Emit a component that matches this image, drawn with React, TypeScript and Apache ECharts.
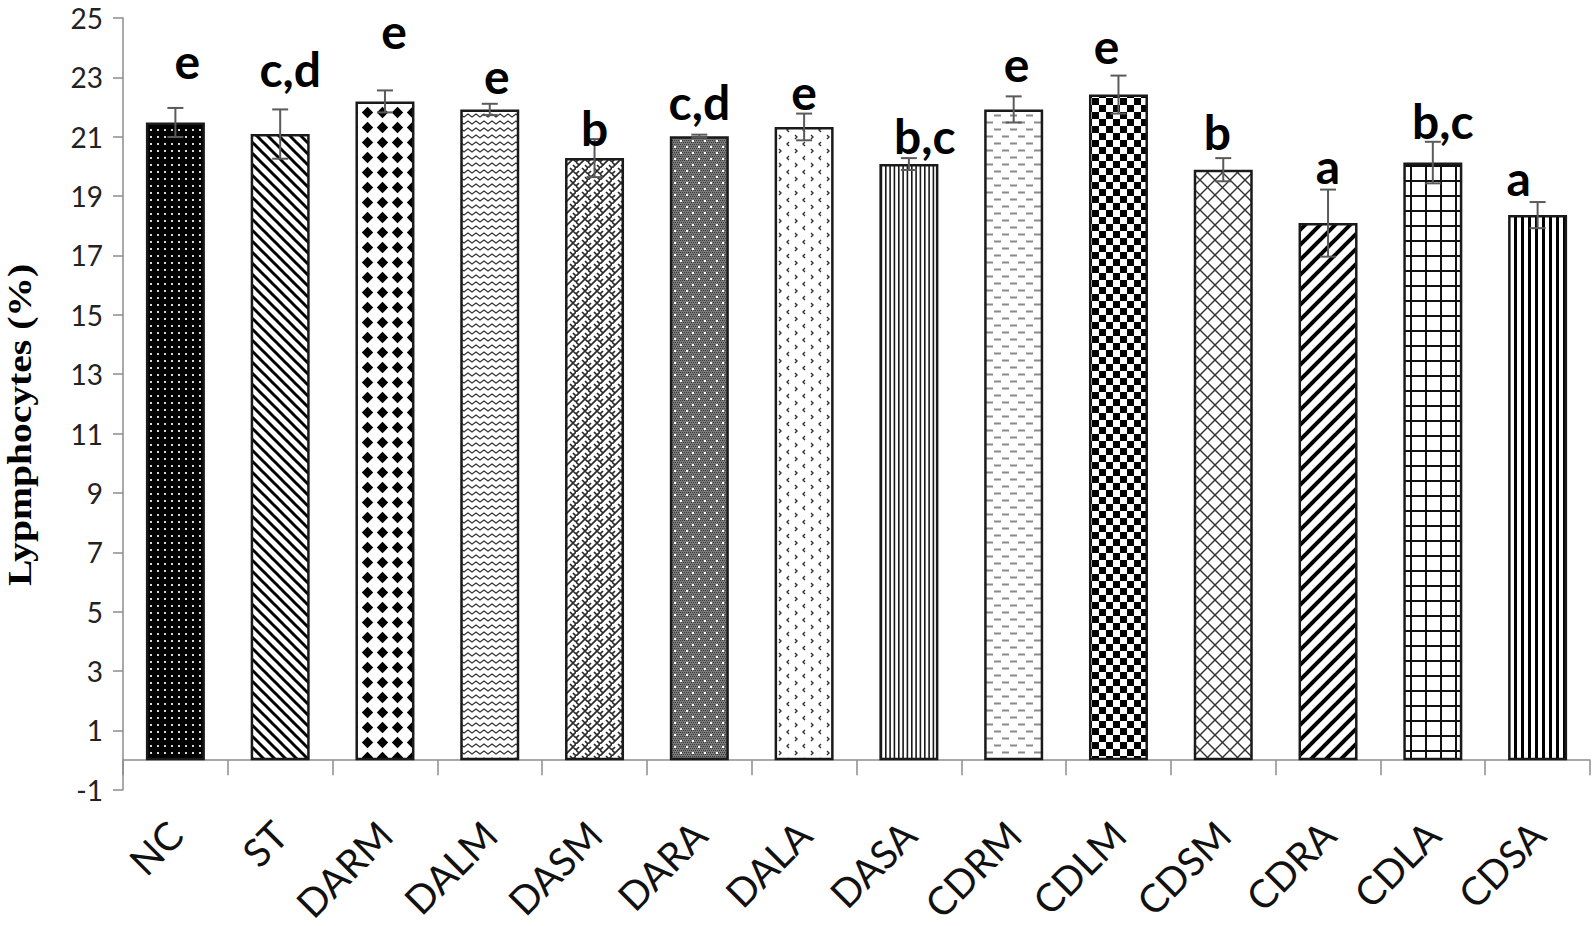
import React, { useEffect, useRef } from 'react';
import * as echarts from 'echarts';

// ---- data ----
const categories = ['NC', 'ST', 'DARM', 'DALM', 'DASM', 'DARA', 'DALA', 'DASA', 'CDRM', 'CDLM', 'CDSM', 'CDRA', 'CDLA', 'CDSA'];
const means = [21.48, 21.09, 22.19, 21.92, 20.28, 21.02, 21.33, 20.08, 21.92, 22.42, 19.89, 18.09, 20.13, 18.36];
const sds = [0.49, 0.83, 0.37, 0.19, 0.64, 0.05, 0.45, 0.2, 0.44, 0.64, 0.39, 1.13, 0.7, 0.44];
const letters = ['e', 'c,d', 'e', 'e', 'b', 'c,d', 'e', 'b,c', 'e', 'e', 'b', 'a', 'b,c', 'a'];
// baseline level of each significance letter, in axis units
const letterLevels = [23.1, 22.83, 24.12, 22.59, 20.83, 21.72, 22.06, 20.56, 23.0, 23.61, 20.72, 19.56, 21.09, 19.14];
const yMin = -1;
const yMax = 25;
const yStep = 2;
const yTitle = 'Lypmphocytes (%)';

// ---- styling helpers (not data) ----
const letterNudgeX = [12, 10, 9, 7, 0, 0, 0, 16, 3, -12, -6, 0, 10, -19];

type Draw = (g: CanvasRenderingContext2D, w: number, h: number) => void;
function tile(w: number, h: number, bg: string, draw: Draw) {
  const c = document.createElement('canvas');
  c.width = w;
  c.height = h;
  const g = c.getContext('2d')!;
  g.fillStyle = bg;
  g.fillRect(0, 0, w, h);
  draw(g, w, h);
  return { image: c.toDataURL(), repeat: 'repeat', imageWidth: w, imageHeight: h };
}

function makePatterns() {
  const diag = (g: CanvasRenderingContext2D, s: number, lw: number, col: string, down: boolean) => {
    g.strokeStyle = col;
    g.lineWidth = lw;
    for (const o of [-s, 0, s]) {
      g.beginPath();
      if (down) {
        g.moveTo(o - 2, -2);
        g.lineTo(o + s + 2, s + 2);
      } else {
        g.moveTo(o - 2, s + 2);
        g.lineTo(o + s + 2, -2);
      }
      g.stroke();
    }
  };
  return [
    // NC: white dots on black
    tile(7, 7, '#000', (g) => {
      g.fillStyle = '#d8d8d8';
      g.fillRect(3, 3, 2, 2);
    }),
    // ST: wide downward diagonal
    tile(11, 11, '#fff', (g) => diag(g, 11, 3, '#000', true)),
    // DARM: solid diamonds
    tile(15, 15, '#fff', (g) => {
      g.fillStyle = '#000';
      g.beginPath();
      g.moveTo(7.5, 1.8);
      g.lineTo(13.2, 7.5);
      g.lineTo(7.5, 13.2);
      g.lineTo(1.8, 7.5);
      g.closePath();
      g.fill();
    }),
    // DALM: zigzag
    tile(8, 7, '#fff', (g) => {
      g.strokeStyle = '#333';
      g.lineWidth = 1.3;
      g.beginPath();
      g.moveTo(-4, 2);
      g.lineTo(0, 5);
      g.lineTo(4, 2);
      g.lineTo(8, 5);
      g.lineTo(12, 2);
      g.stroke();
    }),
    // DASM: weave
    tile(12, 12, '#fff', (g) => {
      g.strokeStyle = '#2a2a2a';
      g.lineWidth = 1.7;
      g.beginPath();
      g.moveTo(-1, 13);
      g.lineTo(13, -1);
      g.moveTo(0, 6);
      g.lineTo(3, 9);
      g.moveTo(6, 0);
      g.lineTo(9, 3);
      g.moveTo(6, 12);
      g.lineTo(7, 13);
      g.moveTo(9, 9);
      g.lineTo(12, 12);
      g.moveTo(-1, -1);
      g.lineTo(0, 0);
      g.moveTo(3, 3);
      g.lineTo(0, 6);
      g.moveTo(9, 3);
      g.lineTo(12, 6);
      g.stroke();
    }),
    // DARA: dark grey texture with white dots
    tile(12, 12, '#7a7a7a', (g) => {
      g.fillStyle = '#3a3a3a';
      for (let y = 0; y < 12; y += 2) for (let x = (y / 2) % 2 ? 1 : 0; x < 12; x += 2) g.fillRect(x, y, 1, 1);
      g.fillStyle = '#fff';
      g.fillRect(2, 2, 2, 2);
      g.fillRect(8, 8, 2, 2);
    }),
    // DALA: divot
    tile(16, 14, '#fff', (g) => {
      g.strokeStyle = '#333';
      g.lineWidth = 1.4;
      g.beginPath();
      g.moveTo(5, 2);
      g.lineTo(3, 4);
      g.lineTo(5, 6);
      g.moveTo(11, 9);
      g.lineTo(13, 11);
      g.lineTo(11, 13);
      g.stroke();
    }),
    // DASA: narrow vertical lines
    tile(13, 4, '#fff', (g) => {
      g.fillStyle = '#1a1a1a';
      g.fillRect(1, 0, 1.6, 4);
      g.fillRect(5.3, 0, 1.6, 4);
      g.fillRect(9.6, 0, 1.6, 4);
    }),
    // CDRM: dashed horizontal
    tile(16, 14, '#fff', (g) => {
      g.fillStyle = '#8a8a8a';
      g.fillRect(2, 2.5, 7, 2);
      g.fillRect(10, 9.5, 6, 2);
      g.fillRect(0, 9.5, 1, 2);
    }),
    // CDLM: large checker
    tile(14, 14, '#fff', (g) => {
      g.fillStyle = '#000';
      g.fillRect(0, 0, 7, 7);
      g.fillRect(7, 7, 7, 7);
    }),
    // CDSM: diagonal cross
    tile(15, 15, '#fff', (g) => {
      diag(g, 15, 1.4, '#333', true);
      diag(g, 15, 1.4, '#333', false);
    }),
    // CDRA: wide upward diagonal
    tile(15, 15, '#fff', (g) => diag(g, 15, 4, '#000', false)),
    // CDLA: large grid
    tile(15, 15, '#fff', (g) => {
      g.fillStyle = '#111';
      g.fillRect(0, 0, 15, 2);
      g.fillRect(0, 0, 2, 15);
    }),
    // CDSA: wide vertical lines
    tile(7, 4, '#fff', (g) => {
      g.fillStyle = '#000';
      g.fillRect(2, 0, 3, 4);
    }),
  ];
}

export default function App() {
  const ref = useRef<HTMLDivElement>(null);
  useEffect(() => {
    if (!ref.current) return;
    const chart = echarts.init(ref.current, undefined, { renderer: 'svg' });
    const patterns = makePatterns();
    const axisGrey = '#8c8c8c';
    const option: any = {
      animation: false,
      backgroundColor: '#fff',
      grid: { left: 123, right: 3, top: 18, bottom: 132, containLabel: false },
      xAxis: {
        type: 'category',
        data: categories,
        axisLine: { onZero: true, lineStyle: { color: axisGrey, width: 1.5 } },
        axisTick: { show: true, length: 15, lineStyle: { color: axisGrey, width: 1.5 } },
        axisLabel: {
          interval: 0,
          rotate: 45,
          margin: 38,
          fontFamily: 'Lato',
          fontSize: 39,
          color: '#111',
        },
      },
      yAxis: {
        type: 'value',
        min: yMin,
        max: yMax,
        interval: yStep,
        axisLine: { show: true, lineStyle: { color: axisGrey, width: 1.5 } },
        axisTick: { show: true, length: 10, lineStyle: { color: axisGrey, width: 1.5 } },
        splitLine: { show: false },
        axisLabel: { fontFamily: 'Lato', fontSize: 28, lineHeight: 22, color: '#222', margin: 20 },
      },
      series: [
        {
          type: 'bar',
          barWidth: 59,
          data: means.map((v, i) => ({ value: v, itemStyle: { color: patterns[i] } })),
          itemStyle: { borderColor: '#1a1a1a', borderWidth: 2.5 },
          z: 2,
        },
        {
          type: 'custom',
          z: 3,
          data: means.map((m, i) => [i, m, sds[i]]),
          renderItem: (params: any, api: any) => {
            const i = api.value(0);
            const m = api.value(1);
            const s = api.value(2);
            const hi = api.coord([i, m + s]);
            const lo = api.coord([i, m - s]);
            const w = 8;
            const style = { stroke: '#5a5a5a', lineWidth: 2 };
            return {
              type: 'group',
              children: [
                { type: 'line', shape: { x1: hi[0], y1: hi[1], x2: lo[0], y2: lo[1] }, style },
                { type: 'line', shape: { x1: hi[0] - w, y1: hi[1], x2: hi[0] + w, y2: hi[1] }, style },
                { type: 'line', shape: { x1: lo[0] - w, y1: lo[1], x2: lo[0] + w, y2: lo[1] }, style },
              ],
            };
          },
        },
        {
          type: 'custom',
          z: 4,
          data: letterLevels.map((y, i) => [i, y]),
          renderItem: (params: any, api: any) => {
            const idx = params.dataIndex;
            const p = api.coord([api.value(0), api.value(1)]);
            return {
              type: 'text',
              x: p[0] + letterNudgeX[idx],
              y: p[1] + 6,
              style: {
                text: letters[idx],
                font: 'bold 48px Lato',
                lineHeight: 40,
                fill: '#000',
                align: 'center',
                verticalAlign: 'bottom',
              },
            };
          },
        },
      ],
      graphic: [
        {
          type: 'text',
          x: 20,
          y: 425,
          rotation: Math.PI / 2,
          scaleX: 1.2,
          style: {
            text: yTitle,
            font: 'bold 33px "Liberation Serif"',
            fill: '#000',
            align: 'center',
            verticalAlign: 'middle',
          },
        },
      ],
    };
    chart.setOption(option);
    return () => chart.dispose();
  }, []);
  return (
    <div
      ref={ref}
      style={{ position: 'fixed', left: 0, top: 0, width: 1593, height: 926, background: '#fff' }}
    />
  );
}
